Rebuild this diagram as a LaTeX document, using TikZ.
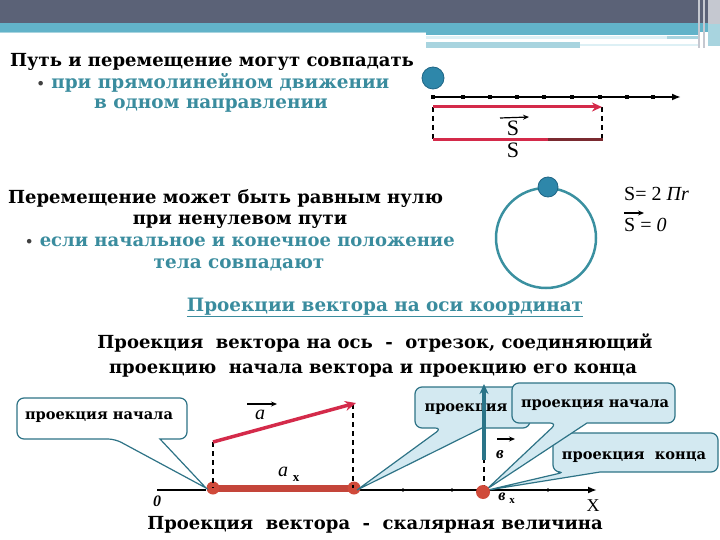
\documentclass[tikz,border=0pt]{standalone}
\usepackage{fontspec}
\setmainfont{DejaVu Serif}
\newfontfamily\tnr{Liberation Serif}
\usetikzlibrary{arrows.meta}
\definecolor{hdrdark}{HTML}{5B6277}
\definecolor{hdrteal}{HTML}{62B3C9}
\definecolor{hdrpale}{HTML}{DDF0F5}
\definecolor{hdrlt}{HTML}{A8D4DF}
\definecolor{hdrgray}{HTML}{C5C8D0}
\definecolor{tealtxt}{HTML}{3A8C9E}
\definecolor{circ}{HTML}{3A90A0}
\definecolor{ball}{HTML}{2E87AA}
\definecolor{balle}{HTML}{1F6585}
\definecolor{vecred}{HTML}{D42A4A}
\definecolor{segred}{HTML}{C4453A}
\definecolor{maroon}{HTML}{7A2A30}
\definecolor{cofill}{HTML}{D3E9F1}
\definecolor{codraw}{HTML}{2E7386}
\definecolor{vecteal}{HTML}{2A7488}
\definecolor{dotred}{HTML}{D04A3A}
\newcommand{\mybul}{{\color{black!75}\fontsize{13}{14}\selectfont •}}
\begin{document}
\begin{tikzpicture}[x=1pt,y=-1pt,
  big/.style={font=\bfseries\fontsize{18}{21}\selectfont, inner sep=0pt},
  tealbig/.style={font=\bfseries\fontsize{18.4}{21}\selectfont, inner sep=0pt, text=tealtxt},
  cotext/.style={font=\bfseries\fontsize{14.6}{16}\selectfont, inner sep=0pt},
  callout/.style={draw=codraw, line width=1.2pt, fill=cofill},
  mathlbl/.style={font=\tnr\fontsize{22}{24}\selectfont, inner sep=0pt},
  vecarrow/.style={-{Stealth[length=6pt,width=5pt]}, line width=1.2pt},
  dashln/.style={line width=1.4pt, dash pattern=on 5pt off 4pt},
]
\useasboundingbox (0,0) rectangle (720,540);
% header
\fill[hdrdark] (0,0) rectangle (720,23);
\fill[hdrteal] (0,23) rectangle (720,32);
\fill[hdrteal] (426,32) rectangle (700,35);
\fill[hdrlt] (0,32) rectangle (426,33.5);
\fill[hdrpale] (426,36) rectangle (667,39);
\fill[hdrlt] (667,36) rectangle (700,39);
\fill[hdrlt] (426,42) rectangle (580,48);
\fill[hdrpale] (580,44) rectangle (700,46);
\fill[hdrgray] (698,0) rectangle (700,48);
\fill[hdrgray] (703,0) rectangle (705,48);
\fill[hdrgray] (708,0) rectangle (720,24);
\fill[hdrlt] (708,24) rectangle (720,46);

% section 1 text
\node[big, anchor=base west] (t1) at (10,67) {Путь и перемещение могут совпадать};
\node[tealbig, anchor=base] (t2) at (213,89) {\mybul\ при прямолинейном движении};
\node[tealbig, anchor=base] (t3) at (211,109) {в одном направлении};

% section 1 diagram
\draw[line width=2.5pt, -{Latex[length=9pt,width=7pt]}] (433,97) -- (681,97);
\foreach \x in {433,463,490,517,544,572,600,627,653}
  \fill (\x-2.2,94.8) rectangle (\x+2.2,99.2);
\filldraw[fill=ball, draw=balle, line width=0.8pt] (433,78) circle (11);
\draw[dashln] (433,107) -- (433,140);
\draw[dashln] (602,107) -- (602,140);
\draw[vecred, line width=3pt, -{Stealth[length=10pt,width=9pt]}] (433,107) -- (602,107);
\draw[vecred, line width=3pt] (433,140) -- (548,140);
\draw[maroon, line width=3pt] (548,140) -- (603,140);
\node[mathlbl] (s1) at (513,128) {S};
\draw[vecarrow] (500,118) -- (529,117);
\node[mathlbl] (s2) at (513,150) {S};

% section 2 text
\node[big, anchor=base west] (t4) at (8,204) {Перемещение может быть равным нулю};
\node[big, anchor=base] (t5) at (240,225) {при ненулевом пути};
\node[tealbig, font=\bfseries\fontsize{18}{21}\selectfont, anchor=base west] (t6) at (25,247) {\mybul\ если начальное и конечное положение};
\node[tealbig, anchor=base] (t7) at (239,268) {тела совпадают};

% section 2 diagram
\draw[circ, line width=2.5pt] (546,238) circle (50);
\filldraw[fill=ball, draw=balle, line width=0.8pt] (548,187) circle (10);
\node[mathlbl, font=\tnr\fontsize{20}{22}\selectfont, anchor=base west] (f1) at (624,201) {S= 2 \textit{Пr}};
\draw[vecarrow] (624,213) -- (644,213);
\node[mathlbl, font=\tnr\fontsize{20}{22}\selectfont, anchor=base west] (f2) at (624,232) {S = \textit{0}};

% section 3 text
\node[tealbig, anchor=base] (t8) at (385,311) {\underline{Проекции вектора на оси координат}};
\node[big, anchor=base] (t9) at (375,348) {Проекция\ \ вектора на ось\ \ -\ \ отрезок, соединяющий};
\node[big, anchor=base] (t10) at (373,373) {проекцию\ \ начала вектора и проекцию его конца};

% bottom diagram: axis
\draw[line width=1.5pt] (157,490) -- (206,490);
\draw[line width=2.5pt, -{Latex[length=9pt,width=7pt]}] (355,490) -- (597,490);
\foreach \x in {403,452,548}
  \fill (\x,490) circle (1.8);
\draw[segred, line width=7pt] (213,488) -- (354,488);
\fill[dotred] (213,488) circle (6.5);
\fill[dotred] (354,488) circle (6.5);
% vector a
\draw[dashln] (213,442) -- (213,488);
\draw[dashln] (353,404) -- (353,488);
\draw[vecred, line width=3.5pt, -{Stealth[length=11pt,width=10pt]}] (213,442) -- (356,403);
\node[font=\tnr\itshape\fontsize{20}{22}\selectfont, inner sep=0pt] (la) at (260,415) {a};
\draw[vecarrow] (247,404) -- (277,404);
\node[font=\tnr\itshape\fontsize{20}{22}\selectfont, inner sep=0pt] (lax) at (283,472) {a};
\node[font=\tnr\bfseries\fontsize{13}{15}\selectfont, inner sep=0pt] (lax2) at (296,479) {x};
\node[font=\tnr\bfseries\itshape\fontsize{16}{18}\selectfont, inner sep=0pt] (l0) at (157,501) {0};
\node[font=\tnr\fontsize{18}{20}\selectfont, inner sep=0pt] (lX) at (593,506) {X};

% callouts
\draw[callout] (565,472) -- (488,490) -- (600,472) [rounded corners=7pt] -- (718,472) -- (718,433) -- (553,433) -- (553,472) -- cycle;
\node[cotext, anchor=base] (c4) at (634,459) {проекция\ \ конца};
\draw[callout] (442,428) -- (357,490) -- (482,428) [rounded corners=7pt] -- (530,428) -- (530,387) -- (415,387) -- (415,428) -- cycle;
\node[cotext, anchor=base] (c2) at (466,411) {проекция};
\draw[callout] (557,423) -- (487,489) -- (587,423) [rounded corners=7pt] -- (675,423) -- (675,383) -- (512,383) -- (512,423) -- cycle;
\node[cotext, anchor=base] (c3) at (595,407) {проекция начала};
\draw[callout, fill=white] (115,439) -- (206,488) -- (160,439) [rounded corners=7pt] -- (187,439) -- (187,398) -- (17,398) -- (17,439) -- cycle;
\node[cotext, anchor=base] (c1) at (99,419) {проекция начала};

% vector b
\draw[dashln] (484,490) -- (484,458);
\draw[vecteal, line width=3.5pt, -{Stealth[length=10pt,width=9pt]}] (484,460) -- (484,384);
\fill[dotred] (483,492) circle (7);
\node[font=\tnr\bfseries\itshape\fontsize{17}{19}\selectfont, inner sep=0pt] (lb) at (500,455) {в};
\draw[vecarrow] (497,439) -- (515,439);
\node[font=\tnr\bfseries\itshape\fontsize{16}{18}\selectfont, inner sep=0pt] (lbx) at (502,497) {в};
\node[font=\tnr\bfseries\fontsize{11}{13}\selectfont, inner sep=0pt] (lbx2) at (512,501) {x};

% bottom text
\node[big, anchor=base] (t11) at (375,529) {Проекция\ \ вектора\ \ -\ \ скалярная величина};
\end{tikzpicture}
\end{document}
